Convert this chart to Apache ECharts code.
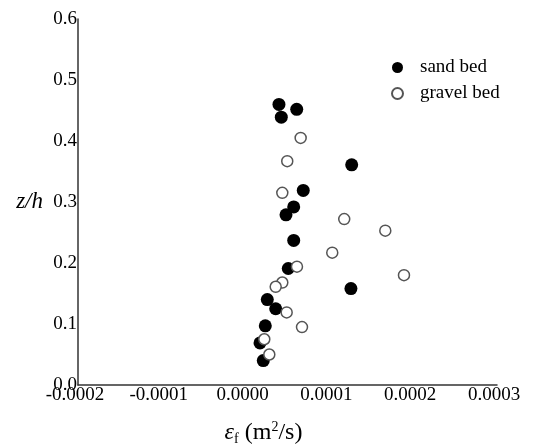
<!DOCTYPE html>
<html>
<head>
<meta charset="utf-8">
<script src="https://cdn.jsdelivr.net/npm/echarts@6/dist/echarts.min.js"></script>
<style>
  html, body { margin: 0; padding: 0; background: #fff; }
  #chart { width: 556px; height: 448px; }
</style>
</head>
<body>
<div id="chart"></div>
<script>
// sand bed (filled) : [eps_f, z/h]
const sandBed = [
    [3.98e-5, 0.460], [6.10e-5, 0.452], [4.26e-5, 0.439], [1.266e-4, 0.361],
    [6.88e-5, 0.319], [5.74e-5, 0.292], [4.82e-5, 0.279], [5.74e-5, 0.237],
    [5.09e-5, 0.191], [1.257e-4, 0.158], [2.59e-5, 0.140], [3.59e-5, 0.125],
    [2.35e-5, 0.097], [1.72e-5, 0.069], [2.11e-5, 0.040]
];
// gravel bed (open)
const gravelBed = [
    [6.57e-5, 0.405], [4.97e-5, 0.367], [4.38e-5, 0.315], [1.177e-4, 0.272],
    [1.667e-4, 0.253], [1.034e-4, 0.217], [6.13e-5, 0.194], [1.89e-4, 0.180],
    [4.38e-5, 0.168], [3.59e-5, 0.161], [4.90e-5, 0.119], [6.73e-5, 0.095],
    [2.23e-5, 0.075], [2.83e-5, 0.050]
];
const seriesNames = ['sand bed', 'gravel bed'];

const serif = '"Liberation Serif", "Times New Roman", serif';
const chart = echarts.init(document.getElementById('chart'));

chart.setOption({
    animation: false,
    textStyle: { fontFamily: serif },
    grid: { left: 78, right: 59, top: 19, bottom: 63, outerBoundsMode: 'none', containLabel: false },
    legend: {
        orient: 'vertical',
        left: 386,
        top: 53,
        itemWidth: 11,
        itemHeight: 11,
        itemGap: 7,
        icon: 'circle',
        textStyle: { fontFamily: serif, fontSize: 19, color: '#000', padding: [0, 0, 0, 12] },
        data: seriesNames
    },
    xAxis: {
        type: 'value',
        min: -0.0002,
        max: 0.0003,
        interval: 0.0001,
        name: '{e|ε}{sub|f}{n| (m}{sup|2}{n|/s)}',
        nameLocation: 'middle',
        nameGap: 35,
        nameTextStyle: {
            padding: [0, 48, 0, 0],
            rich: {
                e: { fontFamily: serif, fontStyle: 'italic', fontSize: 24, color: '#000' },
                sub: { fontFamily: serif, fontSize: 14, color: '#000', verticalAlign: 'bottom', padding: [12, 0, 0, 0] },
                n: { fontFamily: serif, fontSize: 24, color: '#000' },
                sup: { fontFamily: serif, fontSize: 14, color: '#000', verticalAlign: 'top', padding: [0, 0, 12, 0] }
            }
        },
        axisLine: { onZero: false, lineStyle: { color: '#333', width: 1.5 } },
        axisTick: { show: false },
        splitLine: { show: false },
        axisLabel: {
            margin: 1,
            padding: [0, 6, 0, 0],
            fontSize: 19,
            color: '#000',
            fontFamily: serif,
            formatter: v => v.toFixed(4)
        }
    },
    yAxis: {
        type: 'value',
        min: 0,
        max: 0.6,
        interval: 0.1,
        name: 'z/h',
        nameLocation: 'middle',
        nameGap: 35,
        nameRotate: 0,
        nameTextStyle: { fontFamily: serif, fontStyle: 'italic', fontSize: 23, color: '#000' },
        axisLine: { onZero: false, lineStyle: { color: '#333', width: 1.5 } },
        axisTick: { show: false },
        splitLine: { show: false },
        axisLabel: {
            margin: 1,
            fontSize: 19,
            color: '#000',
            fontFamily: serif,
            formatter: v => v.toFixed(1)
        }
    },
    series: [
        {
            name: seriesNames[0],
            type: 'scatter',
            symbol: 'circle',
            symbolSize: 13,
            itemStyle: { color: '#000', opacity: 1 },
            data: sandBed
        },
        {
            name: seriesNames[1],
            type: 'scatter',
            symbol: 'circle',
            symbolSize: 11,
            itemStyle: { color: '#fff', borderColor: '#555', borderWidth: 1.5, opacity: 1 },
            data: gravelBed
        }
    ]
});
</script>
</body>
</html>
